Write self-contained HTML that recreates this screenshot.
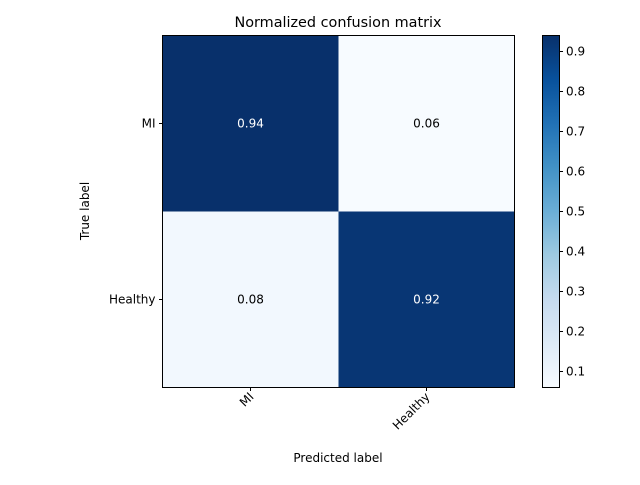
<!DOCTYPE html>
<html><head><meta charset="utf-8"><style>
body{margin:0;background:#fff;font-family:"Liberation Sans","DejaVu Sans",sans-serif;}
svg text{font-family:"DejaVu Sans","Liberation Sans",sans-serif;}
</style></head><body>
<svg width="640" height="480" xmlns="http://www.w3.org/2000/svg">
<defs>
<linearGradient id="blues" x1="0" y1="1" x2="0" y2="0">
<stop offset="0" stop-color="#f7fbff"/><stop offset="0.125" stop-color="#deebf7"/>
<stop offset="0.25" stop-color="#c6dbef"/><stop offset="0.375" stop-color="#9ecae1"/>
<stop offset="0.5" stop-color="#6baed6"/><stop offset="0.625" stop-color="#4292c6"/>
<stop offset="0.75" stop-color="#2171b5"/><stop offset="0.875" stop-color="#08519c"/>
<stop offset="1" stop-color="#08306b"/>
</linearGradient>
</defs>
<text x="338" y="27" font-size="14.4" text-anchor="middle">Normalized confusion matrix</text>
<g id="cells"></g>
<rect x="162.5" y="35.5" width="352" height="352" fill="none" stroke="#000" stroke-width="1"/>
<g id="axes" font-size="12"></g>
<text x="338" y="462" font-size="12" text-anchor="middle">Predicted label</text>
<text x="89" y="211" font-size="12" text-anchor="middle" transform="rotate(-90 89 211)">True label</text>
<rect x="542.5" y="35.5" width="17" height="352" fill="url(#blues)" stroke="#000" stroke-width="1"/>
<g id="cbticks" font-size="12"></g>
</svg>
<script>
const classes=["MI","Healthy"];
const values=[[0.94,0.06],[0.08,0.92]];
const cbTicks=[0.1,0.2,0.3,0.4,0.5,0.6,0.7,0.8,0.9];
const vmin=0.06,vmax=0.94;
const NS="http://www.w3.org/2000/svg";
const x0=162.5,y0=35.5,size=352,cs=size/classes.length;
const stops=[[247,251,255],[222,235,247],[198,219,239],[158,202,225],[107,174,214],[66,146,198],[33,113,181],[8,81,156],[8,48,107]];
function color(v){let t=(v-vmin)/(vmax-vmin);t=Math.max(0,Math.min(1,t))*8;const i=Math.min(7,Math.floor(t)),f=t-i;const a=stops[i],b=stops[i+1];return `rgb(${a.map((c,k)=>Math.round(c+(b[k]-c)*f)).join(",")})`;}
function mk(tag,attrs,parent){const e=document.createElementNS(NS,tag);for(const k in attrs)e.setAttribute(k,attrs[k]);parent.appendChild(e);return e;}
const cells=document.getElementById("cells"),axes=document.getElementById("axes"),cb=document.getElementById("cbticks");
const thresh=(Math.max(...values.flat()))/2;
values.forEach((row,i)=>row.forEach((v,j)=>{
  const r=mk("rect",{x:x0+j*cs,y:y0+i*cs,width:cs,height:cs,fill:color(v)},cells);
  
  
  const t=mk("text",{x:x0+j*cs+cs/2,y:y0+i*cs+cs/2+4,"font-size":12,"text-anchor":"middle",fill:v>thresh?"#fff":"#000"},cells);
  t.textContent=v.toFixed(2);
  
  
}));
classes.forEach((c,i)=>{
  const yc=y0+i*cs+cs/2;
  mk("line",{x1:x0-3.5,x2:x0,y1:yc,y2:yc,stroke:"#000"},axes);
  const t=mk("text",{x:x0-7,y:yc+4,"text-anchor":"end"},axes);t.textContent=c;
  
  
  const xc=x0+i*cs+cs/2;
  mk("line",{x1:xc,x2:xc,y1:y0+size,y2:y0+size+3.5,stroke:"#000"},axes);
  const tx=xc+4,ty=y0+size+10;
  const u=mk("text",{x:tx,y:ty,"text-anchor":"end",transform:`rotate(-45 ${tx} ${ty})`},axes);u.textContent=c;
  
  
});
cbTicks.forEach(v=>{
  const y=y0+size-(v-vmin)/(vmax-vmin)*size;
  mk("line",{x1:559.5,x2:563,y1:y,y2:y,stroke:"#000"},cb);
  const t=mk("text",{x:566,y:y+4},cb);t.textContent=v.toFixed(1);
  
  
});
</script>
</body></html>
